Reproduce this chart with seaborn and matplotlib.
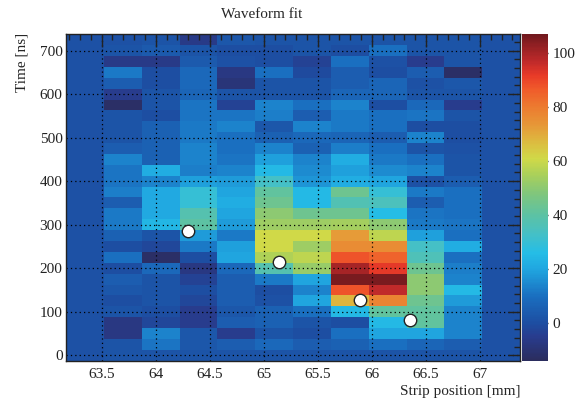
import numpy as np
import pandas as pd
import matplotlib
matplotlib.use("Agg")
import matplotlib.pyplot as plt
import seaborn as sns
from matplotlib.colors import LinearSegmentedColormap
from matplotlib.ticker import MultipleLocator, FuncFormatter

sns.set_style("white")
plt.rcParams['font.family'] = ['Liberation Serif', 'DejaVu Serif']

# ----------------------------------------
# DATA
# ----------------------------------------
# strip bin centres [mm], 0.35 mm wide
strip_pos = [63.345, 63.695, 64.045, 64.395, 64.745, 65.095,
             65.445, 65.795, 66.145, 66.495, 66.845, 67.195]
# time bin centres [ns], top row first
time_ns = list(range(725, -1, -25))

# one list per strip, from 725 ns down to 0 ns
strip_00 = [1] * 30
strip_01 = [1, 2, -6, 12, 5, -5, -12, 2, 2, 2, 5, 14, 11, 11, 13,
            5, 12, 12, 6, 0, 10, 0, 5, 3, 0, 2, -7, -7, 2, 2]
strip_02 = [2, 4, -6, 0, 0, 2, 2, 0, 6, 6, 6, 6, 22, 14, 21,
            21, 21, 24, 2, -2, -12, 8, 2, 2, 2, 0, -2, 14, 11, 2]
strip_03 = [-6, 2, 4, 8, 8, 7, 11, 11, 12, 12, 14, 14, 13, 19, 30,
            30, 38, 40, 18, 12, 0, -7, -3, 0, -2, -5, -5, 3, 3, 2]
strip_04 = [3, 0, 1, -7, -9, 2, -3, 11, 14, 10, 10, 11, 14, 18, 20,
            22, 20, 18, 12, 19, 20, 8, 5, 5, 5, 3, 5, -5, 5, 2]
strip_05 = [2, 0, 0, 10, 2, 2, 14, 13, 3, 6, 14, 19, 25, 33, 41,
            44, 50, 53, 61, 61, 56, 38, 12, 0, 1, 6, 6, 2, 8, 2]
strip_06 = [2, 2, -3, -1, 2, 2, 10, 5, 14, 8, 6, 14, 15, 17, 25,
            25, 44, 53, 61, 53, 58, 52, 20, 14, 20, 10, 2, 0, 5, 2]
strip_07 = [2, 0, 10, 5, 5, 7, 14, 12, 12, 7, 13, 22, 19, 22, 44,
            37, 44, 54, 73, 76, 88, 100, 106, 88, 68, 25, 0, 10, 6, 2]
strip_08 = [2, 10, 1, 0, 7, 7, 0, 10, 10, 5, 10, 12, 15, 20, 30,
            35, 26, 50, 58, 76, 85, 92, 106, 97, 78, 41, 25, 20, 10, 2]
strip_09 = [2, 2, -5, 5, 1, 2, 8, 11, 0, 14, 2, 10, 14, 1, 12,
            5, 11, 12, 19, 33, 36, 44, 50, 50, 44, 41, 41, 20, 7, 2]
strip_10 = [2, 2, 2, -12, 3, 2, -5, 2, 0, 0, 1, 2, 2, 5, 10,
            10, 10, 11, 10, 22, 10, 13, 14, 25, 18, 14, 14, 14, 5, 2]
strip_11 = [1] * 30

# fitted points
fit_x = [64.30, 65.14, 65.89, 66.355]
fit_t = [286, 215, 128, 81]

z_min, z_max = -13.8, 107

# ----------------------------------------
# TABLE + PALETTE
# ----------------------------------------
columns = [strip_00, strip_01, strip_02, strip_03, strip_04, strip_05,
           strip_06, strip_07, strip_08, strip_09, strip_10, strip_11]
grid = pd.DataFrame(np.array(columns).T, index=time_ns, columns=strip_pos)

stops = [(-13.8, '#2b2d5e'), (-5, '#283c8e'), (0, '#1d4ea2'), (10, '#1a6fc0'),
         (20, '#20a6e0'), (26, '#25bde6'), (33, '#45c0c6'), (40, '#5cc2a4'),
         (48, '#80c67c'), (55, '#aad05a'), (61, '#d0d948'), (67, '#dcbc40'),
         (73, '#e69a38'), (80, '#ec7c30'), (87, '#f05a2a'), (92, '#e83a28'),
         (97, '#c02a2a'), (107, '#72191e')]
cmap = LinearSegmentedColormap.from_list(
    'root_pal', [((v - z_min) / (z_max - z_min), c) for v, c in stops])

# ----------------------------------------
# PLOT
# ----------------------------------------
fig = plt.figure(figsize=(5.82, 4.01), dpi=100)
rect = [0.1134, 0.1005, 0.7801, 0.8140]
ax = fig.add_axes(rect)
cax = fig.add_axes([0.8974, 0.1005, 0.0447, 0.8140])

sns.heatmap(grid, ax=ax, cbar_ax=cax, cmap=cmap, vmin=z_min, vmax=z_max,
            xticklabels=False, yticklabels=False,
            cbar_kws={'ticks': [0, 20, 40, 60, 80, 100]})
ax.set_xlabel('')
ax.set_ylabel('')
ax.tick_params(left=False, bottom=False)

# overlay axes in physical units
ax2 = fig.add_axes(rect, facecolor='none')
half_w = 0.175
ax2.set_xlim(strip_pos[0] - half_w, strip_pos[-1] + half_w)
ax2.set_ylim(-12.5, 737.5)
sns.scatterplot(x=fit_x, y=fit_t, ax=ax2, s=80, color='white',
                edgecolor='#222222', linewidth=1.0, zorder=5, legend=False)

ax2.xaxis.set_major_locator(MultipleLocator(0.5))
ax2.xaxis.set_minor_locator(MultipleLocator(0.1))
ax2.yaxis.set_major_locator(MultipleLocator(100))
ax2.yaxis.set_minor_locator(MultipleLocator(20))
ax2.xaxis.set_major_formatter(FuncFormatter(lambda v, p: f"{v:g}"))
ax2.grid(True, which='major', color='black', linestyle=(0, (1, 2.5)), linewidth=0.9)
ax2.tick_params(which='both', direction='in', top=True, right=True,
                width=1, labelsize=11, colors='#222222')
ax2.tick_params(which='major', length=9)
ax2.tick_params(which='minor', length=4.5)
ax2.tick_params(axis='x', pad=5)
ax2.tick_params(axis='y', pad=2.5)
for sp in ax2.spines.values():
    sp.set_linewidth(1)
    sp.set_color('#222222')

# colour bar
cbar = ax.collections[0].colorbar
cbar.outline.set_visible(False)
cax.tick_params(direction='in', length=13, width=1, labelsize=11,
                colors='#222222', pad=3)

# texts
fig.text(262 / 582, 1 - 15 / 401, 'Waveform fit', ha='center', va='center', fontsize=11)
fig.text(520 / 582, 1 - 391 / 401, 'Strip position [mm]', ha='right', va='center', fontsize=11)
fig.text(22 / 582, 1 - 33 / 401, 'Time [ns]', rotation=90, ha='center', va='top', fontsize=11)

fig.savefig('out.png', dpi=100)
